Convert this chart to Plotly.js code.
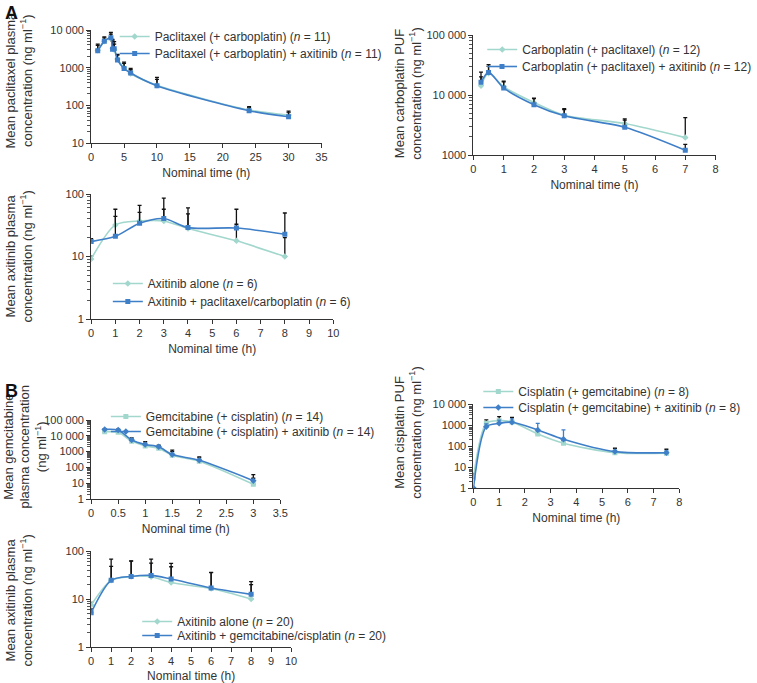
<!DOCTYPE html>
<html>
<head>
<meta charset="utf-8">
<script src="https://cdn.plot.ly/plotly-3.0.1.min.js"></script>
<style>
  body { margin: 0; background: #fff; }
  #chart { width: 757px; height: 683px; }
</style>
</head>
<body>
<div id="chart"></div>
<script>
// A: paclitaxel with carboplatin, alone vs + axitinib
const paclTime = [1, 2, 3, 3.25, 3.5, 4, 5, 6, 10, 24, 30];
const paclAlone = [2900, 5000, 6000, 3300, 3000, 1700, 1000, 700, 340, 75, 55];
const paclAxi = [2800, 5000, 6200, 3100, 3200, 1600, 950, 720, 330, 72, 50];
const paclAloneSd = [1000, 1200, 1800, 1800, 1200, 450, 300, 180, 150, 12, 10];
const paclAxiSd = [1400, 1600, 2500, 2500, 1700, 650, 450, 230, 220, 20, 20];

// A: carboplatin PUF
const carbTime = [0.25, 0.5, 1, 2, 3, 5, 7];
const carbAlone = [14300, 23000, 13700, 7500, 4600, 3350, 1950];
const carbAxi = [16300, 23800, 13100, 6900, 4500, 2900, 1200];
const carbAloneSd = [5700, 7000, 2800, 1200, 1100, 650, 2250];
const carbAxiSd = [7700, 8200, 3900, 2000, 1400, 900, 300];

// A: axitinib alone vs + paclitaxel/carboplatin
const axiATime = [0, 1, 2, 3, 4, 6, 8];
const axiAAlone = [9.1, 32, 37, 37, 28, 17.8, 10];
const axiACombo = [17.3, 21, 34, 40.5, 29, 28.5, 22.7];
const axiAAloneSd = [1, 25, 29, 49, 20, 15, 10];
const axiAComboSd = [2, 23, 17, 16.5, 31, 28.5, 27];

// B: gemcitabine with cisplatin
const gemTime = [0.25, 0.5, 0.75, 1, 1.25, 1.5, 2, 3];
const gemAlone = [18000, 16500, 4600, 2300, 1600, 590, 245, 8.5];
const gemAxi = [25500, 23000, 5400, 2800, 2000, 650, 280, 14.5];
const gemAloneSd = [2000, 2000, 1500, 1000, 700, 400, 150, 12];
const gemAxiSd = [3000, 3000, 2000, 1400, 600, 600, 180, 20];

// B: cisplatin PUF
const cisTime = [0, 0.5, 1, 1.5, 2.5, 3.5, 5.5, 7.5];
const cisAlone = [3, 1200, 1600, 1400, 370, 135, 48, 45];
const cisAxi = [1, 830, 1200, 1350, 580, 210, 54, 48];
const cisAloneSd = [2, 550, 900, 900, 100, 50, 30, 25];
const cisAxiSd = [0, 300, 500, 600, 620, 370, 10, 10];

// B: axitinib alone vs + gemcitabine/cisplatin
const axiBTime = [0, 1, 2, 3, 4, 6, 8];
const axiBAlone = [7.5, 24.5, 29.5, 29, 22, 16.5, 10];
const axiBCombo = [5.2, 24.5, 29.5, 31, 26, 17, 12.5];
const axiBAloneSd = [1, 23.5, 32, 27, 25, 19, 10];
const axiBComboSd = [1, 43.5, 32.5, 37, 29, 19, 10.5];

// tick labels
const logVals = [1, 10, 100, 1000, 10000, 100000];
const logText = ['1', '10', '100', '1000', '10 000', '100 000'];

const names = {
  1: ['Paclitaxel (+ carboplatin) (<i>n</i> = 11)', 'Paclitaxel (+ carboplatin) + axitinib (<i>n</i> = 11)'],
  2: ['Carboplatin (+ paclitaxel) (<i>n</i> = 12)', 'Carboplatin (+ paclitaxel) + axitinib (<i>n</i> = 12)'],
  3: ['Axitinib alone (<i>n</i> = 6)', 'Axitinib + paclitaxel/carboplatin (<i>n</i> = 6)'],
  4: ['Gemcitabine (+ cisplatin) (<i>n</i> = 14)', 'Gemcitabine (+ cisplatin) + axitinib (<i>n</i> = 14)'],
  5: ['Cisplatin (+ gemcitabine) (<i>n</i> = 8)', 'Cisplatin (+ gemcitabine) + axitinib (<i>n</i> = 8)'],
  6: ['Axitinib alone (<i>n</i> = 20)', 'Axitinib + gemcitabine/cisplatin (<i>n</i> = 20)']
};

const light = '#a2d7cd';
const dark = '#3f7fc8';
const W = 757, H = 683;

// every series gets its own legend so the entries can sit where the figure has them
let legendCount = 0;
function series(idx, t, y, sd, name, color, symbol, errColor) {
  legendCount++;
  return {
    x: t, y: y, name: name,
    type: 'scatter', mode: 'lines+markers',
    xaxis: 'x' + (idx > 1 ? idx : ''),
    yaxis: 'y' + (idx > 1 ? idx : ''),
    legend: 'legend' + (legendCount > 1 ? legendCount : ''),
    line: { color: color, width: 1.6, shape: 'spline', smoothing: 0.8 },
    marker: { color: color, size: 5, symbol: symbol },
    error_y: {
      type: 'data', symmetric: false, array: sd, arrayminus: sd.map(() => 0),
      color: errColor || '#111', thickness: 1.3, width: 2
    }
  };
}

const traces = [
  series(1, paclTime, paclAlone, paclAloneSd, names[1][0], light, 'diamond'),
  series(1, paclTime, paclAxi, paclAxiSd, names[1][1], dark, 'square'),
  series(2, carbTime, carbAlone, carbAloneSd, names[2][0], light, 'diamond'),
  series(2, carbTime, carbAxi, carbAxiSd, names[2][1], dark, 'square'),
  series(3, axiATime, axiAAlone, axiAAloneSd, names[3][0], light, 'diamond'),
  series(3, axiATime, axiACombo, axiAComboSd, names[3][1], dark, 'square'),
  series(4, gemTime, gemAlone, gemAloneSd, names[4][0], light, 'square'),
  series(4, gemTime, gemAxi, gemAxiSd, names[4][1], dark, 'diamond'),
  series(5, cisTime, cisAlone, cisAloneSd, names[5][0], light, 'square'),
  series(5, cisTime, cisAxi, cisAxiSd, names[5][1], dark, 'diamond', dark),
  series(6, axiBTime, axiBAlone, axiBAloneSd, names[6][0], light, 'diamond'),
  series(6, axiBTime, axiBCombo, axiBComboSd, names[6][1], dark, 'square')
];

// pixel boxes of each plot area: [left, right, top, bottom]
const boxes = {
  1: [93, 328, 30, 143],
  2: [483, 730, 35, 155],
  3: [93, 340, 194, 319],
  4: [93, 286, 420, 499],
  5: [483, 693, 404, 488],
  6: [93, 297, 551, 647]
};
const xMax = { 1: 35, 2: 8, 3: 10, 4: 3.5, 5: 8, 6: 10 };
const xStep = { 1: 5, 2: 1, 3: 1, 4: 0.5, 5: 1, 6: 1 };
const yRange = { 1: [1, 4], 2: [3, 5], 3: [0, 2], 4: [0, 5], 5: [0, 4], 6: [0, 2] };

// legend text start x and centre y of each entry
const legendX = { 1: 157, 2: 532, 3: 150, 4: 148, 5: 528, 6: 180 };
const legendY = { 1: [32, 49], 2: [45, 62], 3: [279, 297], 4: [412, 427], 5: [387, 403], 6: [617, 631] };

const axisStyle = {
  showline: true, linecolor: '#333', linewidth: 1, showgrid: false, zeroline: false,
  ticks: 'outside', ticklen: 4, tickcolor: '#333', tickfont: { size: 11, color: '#333' }
};

const layout = {
  width: W, height: H,
  margin: { l: 0, r: 0, t: 0, b: 0 },
  paper_bgcolor: '#fff', plot_bgcolor: '#fff',
  font: { family: 'Liberation Sans, Arial, sans-serif', size: 12, color: '#333' },
  showlegend: true,
  annotations: []
};

for (let i = 1; i <= 6; i++) {
  const [l, r, t, b] = boxes[i];
  const sfx = i > 1 ? i : '';
  layout['xaxis' + sfx] = Object.assign({}, axisStyle, {
    domain: [l / W, r / W], anchor: 'y' + sfx,
    range: [0, xMax[i]], tickmode: 'linear', tick0: 0, dtick: xStep[i],
    title: { text: 'Nominal time (h)', font: { size: 12, color: '#333' }, standoff: 6 }
  });
  layout['yaxis' + sfx] = Object.assign({}, axisStyle, {
    domain: [1 - b / H, 1 - t / H], anchor: 'x' + sfx,
    type: 'log', range: yRange[i], tickmode: 'array', tickvals: logVals, ticktext: logText,
    minor: { ticks: 'outside', ticklen: 3, tickcolor: '#555', dtick: 'D1', showgrid: false }
  });
  for (let j = 0; j < 2; j++) {
    const k = (i - 1) * 2 + j + 1;
    layout['legend' + (k > 1 ? k : '')] = {
      x: (legendX[i] - 40) / W, y: 1 - (legendY[i][j] - 10) / H, xanchor: 'left', yanchor: 'top',
      bgcolor: 'rgba(0,0,0,0)', font: { size: 12, color: '#333' }, itemwidth: 30
    };
  }
}

// y axis titles
const yTitles = [
  ['Mean paclitaxel plasma<br>concentration (ng ml<sup>−1</sup>)', 19, 80],
  ['Mean carboplatin PUF<br>concentration (ng ml<sup>−1</sup>)', 416, 93],
  ['Mean axitinib plasma<br>concentration (ng ml<sup>−1</sup>)', 19, 256],
  ['Mean gemcitabine<br>plasma concentration<br>(ng ml<sup>−1</sup>)', 25, 447],
  ['Mean cisplatin PUF<br>concentration (ng ml<sup>−1</sup>)', 416, 432],
  ['Mean axitinib plasma<br>concentration (ng ml<sup>−1</sup>)', 19, 600]
];
yTitles.forEach(([text, x, y]) => {
  layout.annotations.push({
    text: text, xref: 'paper', yref: 'paper', x: x / W, y: 1 - y / H,
    xanchor: 'center', yanchor: 'middle', textangle: -90, showarrow: false,
    font: { size: 13, color: '#333' }
  });
});

// panel letters
[['A', 3, 1], ['B', 3, 379]].forEach(([text, x, y]) => {
  layout.annotations.push({
    text: '<b>' + text + '</b>', xref: 'paper', yref: 'paper', x: x / W, y: 1 - y / H,
    xanchor: 'left', yanchor: 'top', showarrow: false,
    font: { size: 18, color: '#111', family: 'Liberation Sans, Arial, sans-serif' }
  });
});

Plotly.newPlot('chart', traces, layout, { displayModeBar: false, responsive: false });
</script>
</body>
</html>
